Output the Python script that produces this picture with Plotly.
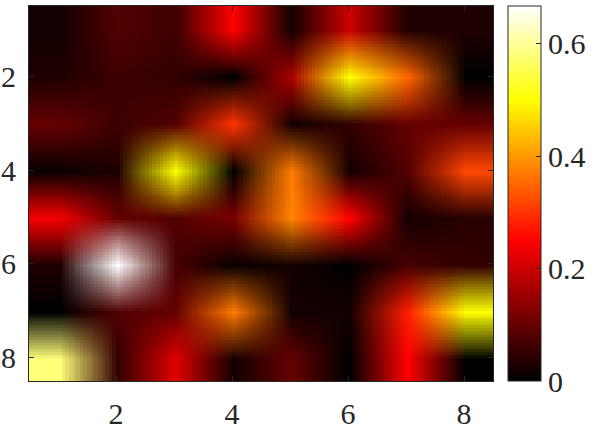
import plotly.graph_objects as go

# 8x8 matrix shown with imagesc-style axes (row 1 at the top)
cols = [1, 2, 3, 4, 5, 6, 7, 8]
rows = [1, 2, 3, 4, 5, 6, 7, 8]

row1 = [0.02, 0.08, 0.06, 0.25, 0.02, 0.20, 0.03, 0.03]
row2 = [0.03, 0.06, 0.05, 0.00, 0.17, 0.50, 0.35, 0.00]
row3 = [0.10, 0.06, 0.08, 0.30, 0.02, 0.05, 0.10, 0.10]
row4 = [0.01, 0.03, 0.50, 0.00, 0.37, 0.02, 0.08, 0.32]
row5 = [0.24, 0.10, 0.08, 0.12, 0.38, 0.25, 0.02, 0.04]
row6 = [0.03, 0.667, 0.07, 0.01, 0.02, 0.00, 0.07, 0.05]
row7 = [0.00, 0.08, 0.10, 0.37, 0.02, 0.02, 0.28, 0.50]
row8 = [0.58, 0.05, 0.22, 0.02, 0.10, 0.00, 0.25, 0.00]
values = [row1, row2, row3, row4, row5, row6, row7, row8]

tick_vals = [2, 4, 6, 8]
cbar_ticks = [0, 0.2, 0.4, 0.6]

# MATLAB "hot" colormap
hot = [
    [0.0, "rgb(0,0,0)"],
    [0.375, "rgb(255,0,0)"],
    [0.75, "rgb(255,255,0)"],
    [1.0, "rgb(255,255,255)"],
]

W, H = 598, 429
ml, mr, mt, mb = 29, 105, 6, 48
font = dict(family="Liberation Serif", size=30, color="#262626")

fig = go.Figure(
    go.Heatmap(
        z=values,
        x=cols,
        y=rows,
        colorscale=hot,
        zmin=0,
        zmax=0.667,
        zsmooth="fast",
        colorbar=dict(
            x=508 / W,
            xref="container",
            xanchor="left",
            xpad=0,
            ypad=0,
            y=0.5,
            yanchor="middle",
            len=1,
            lenmode="fraction",
            thickness=33,
            outlinewidth=1,
            outlinecolor="#262626",
            ticks="inside",
            ticklen=5,
            tickcolor="#262626",
            tickvals=cbar_ticks,
            ticktext=["0", "0.2", "0.4", "0.6"],
            tickfont=font,
        ),
    )
)

fig.update_layout(
    width=W,
    height=H,
    margin=dict(l=ml, r=mr, t=mt, b=mb, pad=0),
    paper_bgcolor="white",
    plot_bgcolor="white",
    font=font,
    showlegend=False,
)
axis_style = dict(
    tickvals=tick_vals,
    ticks="inside",
    ticklen=5,
    tickcolor="#262626",
    showline=True,
    linecolor="#262626",
    linewidth=1,
    mirror="ticks",
    showgrid=False,
    zeroline=False,
    automargin=False,
    tickfont=font,
)
fig.update_xaxes(range=[0.5, 8.5], ticklabelstandoff=6, **axis_style)
fig.update_yaxes(range=[8.5, 0.5], ticklabelstandoff=6, **axis_style)

# drop the page's default body margin so the figure sits at the window origin
fig.write_html(
    "out.html",
    config={"displayModeBar": False},
    post_script="document.body.style.margin='0';",
)
